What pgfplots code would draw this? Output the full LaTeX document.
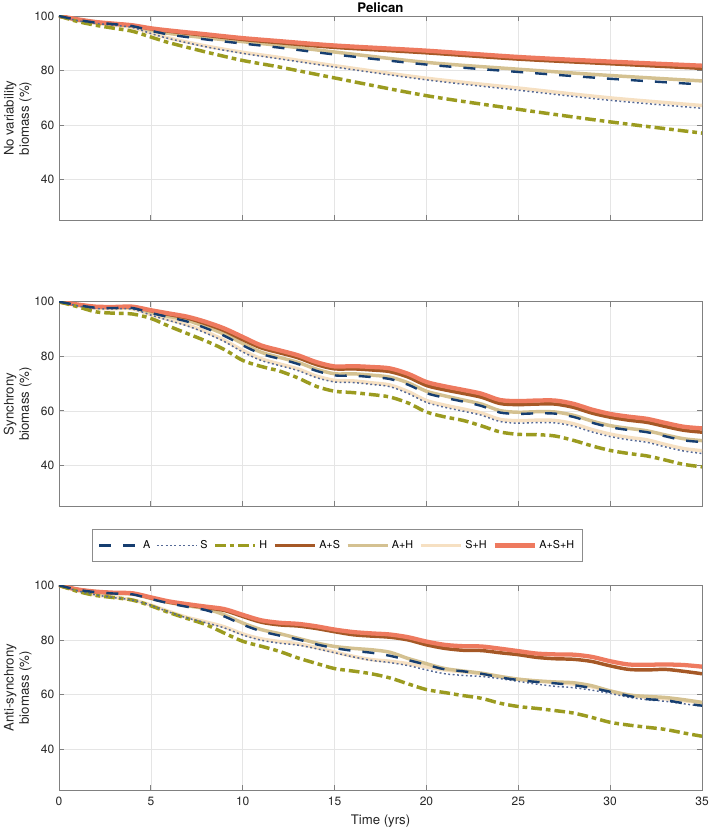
\documentclass[border=0pt]{standalone}
\usepackage{fontspec}
\setmainfont{TeX Gyre Heros}
\usepackage{pgfplots}
\usepackage{pgfplotstable}
\pgfplotsset{compat=1.18}

\definecolor{cA}{RGB}{22,62,112}
\definecolor{cS}{RGB}{85,105,150}
\definecolor{cH}{RGB}{155,155,32}
\definecolor{cAS}{RGB}{165,88,38}
\definecolor{cAH}{RGB}{212,193,145}
\definecolor{cSH}{RGB}{246,224,194}
\definecolor{cASH}{RGB}{238,122,95}

% No variability
\pgfplotstableread{
x  A    S    H    AS   AH   SH   ASH
0  100  100  100  100  100  100  100
1  98.6 98.3 98.0 98.7 98.6 98.3 98.8
2  97.6 97.3 96.6 97.7 97.6 97.3 97.8
3  97.0 96.6 95.5 97.1 97.0 96.6 97.2
4  96.3 95.8 94.4 96.5 96.3 95.8 96.6
5  94.6 93.6 92.3 95.3 94.8 93.8 95.5
6  93.2 91.7 90.2 94.4 93.6 91.9 94.7
8  91.4 88.7 86.8 92.9 92.0 89.0 93.3
10 89.9 86.3 83.7 91.4 90.6 86.7 91.9
12 88.4 84.3 81.3 90.2 89.2 84.8 90.8
15 85.9 81.3 77.3 88.5 86.8 81.8 89.2
20 82.2 76.6 70.8 86.5 83.0 77.2 87.3
25 79.5 72.8 65.8 84.2 80.5 73.6 85.0
30 77.0 69.1 61.2 82.5 78.2 70.0 83.3
35 74.9 66.2 57.1 80.8 76.2 67.2 81.8
}\tabNone

% Synchrony
\pgfplotstableread{
x  A    S    H    AS   AH   SH   ASH
0  100  100  100  100  100  100  100
1  98.8 98.5 98.2 98.9 98.8 98.6 99.0
2  97.8 97.5 96.3 98.1 97.9 97.6 98.2
3  97.7 97.4 95.8 98.0 97.8 97.5 98.1
4  97.7 97.3 95.5 98.1 97.8 97.4 98.2
5  95.9 95.1 93.9 96.7 96.1 95.3 96.9
6  94.3 93.1 91.0 95.3 94.6 93.4 95.7
7  92.7 91.1 88.3 94.0 93.1 91.5 94.5
8  90.3 88.5 85.6 91.9 90.8 89.0 92.6
9  87.5 85.4 82.5 89.4 88.1 85.9 90.2
10 84.0 81.6 78.5 86.1 84.7 82.2 87.1
11 80.9 78.5 76.3 83.1 81.5 79.1 84.0
12 79.1 76.6 74.6 81.3 79.6 77.2 82.2
13 77.2 74.8 72.1 79.5 77.8 75.4 80.4
14 74.7 72.2 69.0 77.0 75.3 72.8 77.9
15 73.0 70.6 67.2 75.4 73.6 71.2 76.3
16 72.9 70.4 66.7 75.4 73.6 71.0 76.4
17 72.4 69.7 66.0 75.0 73.1 70.3 76.1
18 71.7 68.9 65.1 74.4 72.4 69.5 75.6
19 69.6 66.4 62.9 72.4 70.3 67.1 73.6
20 66.5 63.1 59.6 69.3 67.2 63.8 70.6
21 64.8 61.3 57.8 67.7 65.5 62.1 69.0
22 63.4 59.9 56.5 66.4 64.0 60.7 67.7
23 61.8 58.4 54.5 65.0 62.5 59.2 66.3
24 59.4 56.1 52.3 62.7 60.1 56.9 64.0
25 58.9 55.5 51.4 62.3 59.5 56.4 63.6
26 59.1 55.7 51.3 62.5 59.7 56.6 63.8
27 59.0 55.6 50.8 62.5 59.6 56.5 63.8
28 57.8 54.4 49.2 61.3 58.4 55.3 62.6
29 55.7 52.3 47.2 59.2 56.3 53.2 60.5
30 54.0 50.6 45.5 57.7 54.6 51.5 58.9
31 53.0 49.4 44.4 56.6 53.6 50.3 57.9
32 52.2 48.5 43.5 55.8 52.7 49.4 57.1
33 50.7 46.8 42.0 54.3 51.2 47.7 55.6
34 49.2 45.3 40.4 52.9 49.8 46.2 54.2
35 48.6 44.4 39.5 52.2 49.1 45.4 53.6
}\tabSync

% Anti-synchrony
\pgfplotstableread{
x  A    S    H    AS   AH   SH   ASH
0  100  100  100  100  100  100  100
1  98.4 98.0 97.8 98.5 98.4 98.0 98.5
2  97.5 96.5 96.3 97.6 97.5 96.5 97.7
3  97.0 95.5 95.5 97.2 97.0 95.6 97.3
4  96.7 94.6 94.6 97.0 96.8 94.7 97.1
5  95.0 92.7 92.5 95.4 95.2 92.8 95.6
6  93.4 90.2 90.0 93.8 93.7 90.4 94.1
7  92.1 88.0 87.8 92.8 92.5 88.2 93.1
8  90.9 86.3 85.6 91.8 91.4 86.6 92.2
9  88.6 84.4 82.5 90.8 89.2 84.8 91.3
10 85.6 81.8 79.5 88.6 86.2 82.2 89.2
11 83.2 79.9 77.7 86.5 83.8 80.4 87.2
12 81.6 78.8 75.8 85.5 82.3 79.4 86.3
13 80.2 78.1 73.4 85.1 80.6 78.6 85.9
14 78.4 76.8 71.4 84.2 78.9 77.2 85.0
15 77.0 75.3 69.5 83.0 77.6 75.6 83.8
16 76.0 73.8 68.6 81.9 76.9 74.0 82.9
17 75.3 72.5 67.6 81.4 76.4 72.8 82.4
18 74.2 71.7 66.1 81.0 75.5 72.2 82.0
19 72.6 70.6 63.9 80.0 73.2 71.3 81.0
20 70.9 69.0 61.8 78.2 71.3 70.1 79.4
21 69.2 67.6 60.7 76.9 69.5 69.0 78.2
22 68.5 67.0 59.6 76.2 68.6 68.3 77.7
23 67.6 66.6 58.6 76.1 67.8 67.6 77.6
24 66.3 65.8 56.8 75.3 66.6 66.6 76.8
25 65.3 64.8 55.6 74.6 65.6 65.6 75.9
26 64.6 63.8 54.9 73.6 65.0 64.9 75.0
27 64.1 63.0 54.1 73.1 64.6 64.4 74.7
28 63.4 62.5 53.2 72.9 64.3 63.8 74.6
29 62.4 61.6 51.6 72.1 63.2 62.8 73.8
30 61.0 60.4 49.8 70.5 61.3 61.3 72.2
31 59.5 59.0 48.8 69.2 59.8 59.9 71.0
32 58.3 58.1 48.0 69.0 59.3 58.9 70.9
33 57.9 57.5 47.2 69.2 58.9 58.4 71.0
34 56.8 56.6 45.9 68.5 58.1 57.7 70.8
35 55.9 55.7 44.7 67.6 57.1 57.0 70.2
}\tabAnti

\pgfplotsset{
  sA/.style={color=cA, line width=1.8pt, dash pattern=on 9pt off 9pt},
  sS/.style={color=cS, line width=1.1pt, dash pattern=on 1.4pt off 1.9pt},
  sH/.style={color=cH, line width=2.6pt, dash pattern=on 8pt off 3pt on 3.5pt off 3pt},
  sAS/.style={color=cAS, line width=2.6pt},
  sAH/.style={color=cAH, line width=2.6pt},
  sSH/.style={color=cSH, line width=2.6pt},
  sASH/.style={color=cASH, line width=3.2pt},
  panel/.style={
    width=482.25pt, height=153.5pt, scale only axis,
    anchor=north west,
    xmin=0, xmax=35, ymin=25, ymax=100,
    xtick={0,5,...,35}, ytick={40,60,80,100},
    grid=major, major grid style={color=black!10, line width=0.4pt},
    axis line style={color=black!50, line width=0.6pt},
    tick style={color=black!50, line width=0.6pt},
    major tick length=4pt,
    tick label style={font=\fontsize{9}{10.5}\selectfont, color=black!85},
    xticklabel style={yshift=-1.5pt},
    label style={font=\fontsize{9.9}{11.5}\selectfont, color=black!85},
    ylabel style={align=center, yshift=-5pt},
    /pgf/number format/assume math mode=true,
    legend image code/.code={\draw[mark repeat=2,mark phase=2] plot coordinates {(0pt,0pt) (15pt,0pt) (30pt,0pt)};},
  },
}

\newcommand{\drawall}[1]{%
  \addplot[sSH, smooth, forget plot] table[x=x,y=SH] {#1};
  \addplot[sAH, smooth, forget plot] table[x=x,y=AH] {#1};
  \addplot[sAS, smooth, forget plot] table[x=x,y=AS] {#1};
  \addplot[sASH, smooth, forget plot] table[x=x,y=ASH] {#1};
  \addplot[sH, smooth, forget plot] table[x=x,y=H] {#1};
  \addplot[sS, smooth, forget plot] table[x=x,y=S] {#1};
  \addplot[sA, smooth, forget plot] table[x=x,y=A] {#1};
}

\begin{document}
\begin{tikzpicture}
\useasboundingbox (0pt,0pt) rectangle (531.75pt,-620.25pt);

\begin{axis}[panel, at={(44.25pt,-12pt)}, xticklabels={},
  title={Pelican}, title style={font=\bfseries\fontsize{9.9}{11.5}\selectfont, yshift=-7pt},
  ylabel={No variability\\biomass (\%)}]
\drawall{\tabNone}
\end{axis}

\begin{axis}[panel, at={(44.25pt,-226.3pt)}, xticklabels={},
  ylabel={Synchrony\\biomass (\%)}]
\drawall{\tabSync}
\end{axis}

\begin{axis}[panel, at={(44.25pt,-439pt)},
  xlabel={Time (yrs)},
  ylabel={Anti-synchrony\\biomass (\%)},
  legend columns=-1,
  legend style={at={(0,1)}, anchor=north west, xshift=25pt, yshift=42pt,
    draw=black!45, line width=0.5pt, font=\fontsize{8.1}{9.5}\selectfont,
    inner xsep=4pt, inner ysep=6pt,
    /tikz/every even column/.append style={column sep=2.4pt}}]
\addlegendimage{sA}\addlegendentry{A}
\addlegendimage{sS}\addlegendentry{S}
\addlegendimage{sH}\addlegendentry{H}
\addlegendimage{sAS}\addlegendentry{A+S}
\addlegendimage{sAH}\addlegendentry{A+H}
\addlegendimage{sSH}\addlegendentry{S+H}
\addlegendimage{sASH}\addlegendentry{A+S+H}
\drawall{\tabAnti}
\end{axis}
\end{tikzpicture}
\end{document}
